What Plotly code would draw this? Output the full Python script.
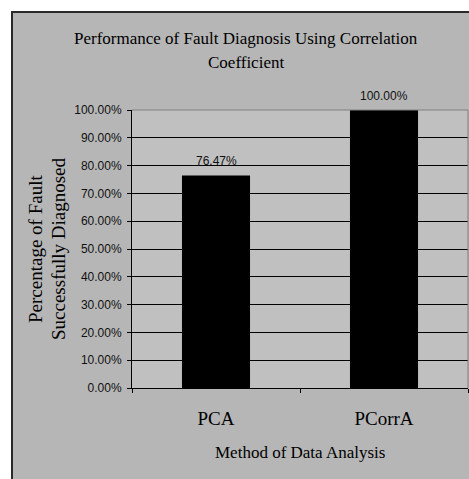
import plotly.graph_objects as go

categories = ["PCA", "PCorrA"]
values = [0.7647, 1.0]
y_ticks = [0.0, 0.1, 0.2, 0.3, 0.4, 0.5, 0.6, 0.7, 0.8, 0.9, 1.0]
title_lines = ["Performance of Fault Diagnosis Using Correlation", "Coefficient"]
ytitle_lines = ["Percentage of Fault", "Successfully Diagnosed"]
xtitle = "Method of Data Analysis"

W, H = 469, 479
L, R, T, B = 132, 1, 110, 91
PW, PH = W - L - R, H - T - B


def px_x(px):  # pixel -> paper x
    return (px - L) / PW


def px_y(py):  # pixel -> paper y
    return (H - B - py) / PH


SERIF = "Liberation Serif, Times New Roman, serif"
SANS = "Liberation Sans, Arial, sans-serif"

fig = go.Figure()
fig.add_trace(go.Bar(
    x=categories, y=values,
    marker=dict(color="#000000", line=dict(width=0)),
    hoverinfo="skip",
))

annotations = []
for c, v in zip(categories, values):
    annotations.append(dict(
        x=c, y=v, xref="x", yref="y", text=f"{v*100:.2f}%",
        showarrow=False, yanchor="bottom", yshift=5,
        font=dict(family=SANS, size=12, color="#111111"),
    ))
for t, py in zip(title_lines, [38, 63]):
    annotations.append(dict(
        x=px_x(246), y=px_y(py), xref="paper", yref="paper", text=t,
        showarrow=False, xanchor="center", yanchor="middle",
        font=dict(family=SERIF, size=17, color="#000000"),
    ))
for t, px in zip(ytitle_lines, [35, 58]):
    annotations.append(dict(
        x=px_x(px), y=px_y(249), xref="paper", yref="paper", text=t,
        showarrow=False, xanchor="center", yanchor="middle", textangle=-90,
        font=dict(family=SERIF, size=19, color="#000000"),
    ))
annotations.append(dict(
    x=px_x(300), y=px_y(452), xref="paper", yref="paper", text=xtitle,
    showarrow=False, xanchor="center", yanchor="middle",
    font=dict(family=SERIF, size=17, color="#000000"),
))

shapes = [
    dict(type="rect", xref="paper", yref="paper",
         x0=px_x(12), x1=px_x(490), y0=px_y(500), y1=px_y(12),
         fillcolor="#b6b6b6", line=dict(color="#2a2a2a", width=2), layer="below"),
    dict(type="rect", xref="paper", yref="paper",
         x0=0, x1=1, y0=0, y1=1,
         fillcolor="#c0c0c0", line=dict(width=0), layer="below"),
    dict(type="line", xref="paper", yref="paper", x0=0, x1=1, y0=1, y1=1,
         line=dict(color="#808080", width=1), layer="above"),
    dict(type="line", xref="paper", yref="paper", x0=1, x1=1, y0=0, y1=1,
         line=dict(color="#808080", width=1), layer="above"),
]

fig.update_layout(
    width=W, height=H,
    margin=dict(l=L, r=R, t=T, b=B, pad=0),
    paper_bgcolor="#ffffff", plot_bgcolor="#c0c0c0",
    showlegend=False, bargap=0.595,
    annotations=annotations, shapes=shapes,
    xaxis=dict(
        type="category", showline=True, linecolor="#000000", linewidth=1,
        ticks="outside", ticklen=4, tickcolor="#000000", tickson="boundaries",
        showgrid=False, ticklabelstandoff=13,
        tickfont=dict(family=SERIF, size=19, color="#000000"),
    ),
    yaxis=dict(
        range=[0, 1.0], tickvals=y_ticks, tickformat=".2%",
        showline=True, linecolor="#000000", linewidth=1,
        ticks="outside", ticklen=4, tickcolor="#000000",
        showgrid=True, gridcolor="#000000", gridwidth=1, zeroline=False,
        ticklabelstandoff=3,
        tickfont=dict(family=SANS, size=12, color="#111111"),
    ),
)

fig.write_html(
    "out.html",
    config={"displayModeBar": False, "staticPlot": True},
    post_script=(
        "document.body.style.margin='0px';"
        "document.body.style.overflow='hidden';"
        "document.documentElement.style.overflow='hidden';"
    ),
)
